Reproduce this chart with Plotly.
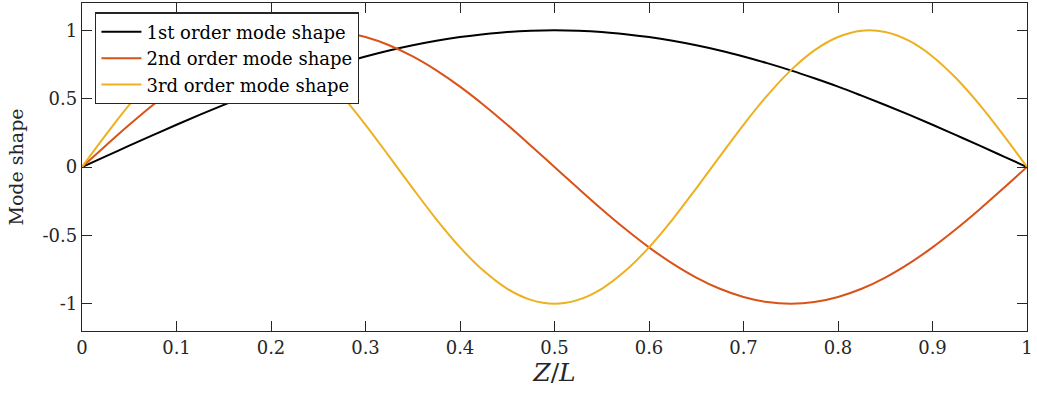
import plotly.graph_objects as go

# Normalised position along the member, Z/L
z_over_l = [0.000, 0.025, 0.050, 0.075, 0.100, 0.125, 0.150, 0.175, 0.200, 0.225,
            0.250, 0.275, 0.300, 0.325, 0.350, 0.375, 0.400, 0.425, 0.450, 0.475,
            0.500, 0.525, 0.550, 0.575, 0.600, 0.625, 0.650, 0.675, 0.700, 0.725,
            0.750, 0.775, 0.800, 0.825, 0.850, 0.875, 0.900, 0.925, 0.950, 0.975,
            1.000]

mode_1 = [0.000, 0.078, 0.156, 0.233, 0.309, 0.383, 0.454, 0.522, 0.588, 0.649,
          0.707, 0.760, 0.809, 0.853, 0.891, 0.924, 0.951, 0.972, 0.988, 0.997,
          1.000, 0.997, 0.988, 0.972, 0.951, 0.924, 0.891, 0.853, 0.809, 0.760,
          0.707, 0.649, 0.588, 0.522, 0.454, 0.383, 0.309, 0.233, 0.156, 0.078,
          0.000]

mode_2 = [0.000, 0.156, 0.309, 0.454, 0.588, 0.707, 0.809, 0.891, 0.951, 0.988,
          1.000, 0.988, 0.951, 0.891, 0.809, 0.707, 0.588, 0.454, 0.309, 0.156,
          0.000, -0.156, -0.309, -0.454, -0.588, -0.707, -0.809, -0.891, -0.951, -0.988,
          -1.000, -0.988, -0.951, -0.891, -0.809, -0.707, -0.588, -0.454, -0.309, -0.156,
          0.000]

mode_3 = [0.000, 0.233, 0.454, 0.649, 0.809, 0.924, 0.988, 0.997, 0.951, 0.853,
          0.707, 0.522, 0.309, 0.078, -0.156, -0.383, -0.588, -0.760, -0.891, -0.972,
          -1.000, -0.972, -0.891, -0.760, -0.588, -0.383, -0.156, 0.078, 0.309, 0.522,
          0.707, 0.853, 0.951, 0.997, 0.988, 0.924, 0.809, 0.649, 0.454, 0.233,
          0.000]

series_names = ["1st order mode shape", "2nd order mode shape", "3rd order mode shape"]
series_colors = ["#000000", "#D95319", "#EDB120"]

x_ticks = [0, 0.1, 0.2, 0.3, 0.4, 0.5, 0.6, 0.7, 0.8, 0.9, 1]
x_tick_text = ["0", "0.1", "0.2", "0.3", "0.4", "0.5", "0.6", "0.7", "0.8", "0.9", "1"]
y_ticks = [-1, -0.5, 0, 0.5, 1]
y_tick_text = ["-1", "-0.5", "0", "0.5", "1"]

FONT = "DejaVu Serif"
AXIS_COLOR = "#262626"

fig = go.Figure()
for name, values, color in zip(series_names, [mode_1, mode_2, mode_3], series_colors):
    fig.add_trace(go.Scatter(
        x=z_over_l, y=values, mode="lines", name=name,
        line=dict(color=color, width=2, shape="spline", smoothing=1.0),
    ))

axis_common = dict(
    showgrid=False, zeroline=False, showline=True, linecolor=AXIS_COLOR,
    linewidth=1.4, mirror="allticks", ticks="inside", ticklen=10,
    tickwidth=1.4, tickcolor=AXIS_COLOR,
    tickfont=dict(family=FONT, size=18, color=AXIS_COLOR),
)

fig.update_xaxes(
    range=[0, 1], tickvals=x_ticks, ticktext=x_tick_text,
    title=dict(text="<i>Z</i>/<i>L</i>", font=dict(family=FONT, size=25, color=AXIS_COLOR), standoff=6),
    **axis_common,
)
fig.update_yaxes(
    range=[-1.2, 1.2], tickvals=y_ticks, ticktext=y_tick_text,
    title=dict(text="Mode shape", font=dict(family=FONT, size=19, color=AXIS_COLOR), standoff=13),
    **axis_common,
)

fig.update_layout(
    width=1037, height=399,
    margin=dict(l=82, r=10, t=3, b=68),
    paper_bgcolor="white", plot_bgcolor="white",
    showlegend=True,
    legend=dict(
        x=0.0138, y=0.972, xanchor="left", yanchor="top",
        bgcolor="white", bordercolor=AXIS_COLOR, borderwidth=1.4,
        font=dict(family=FONT, size=18, color="#000000"),
        tracegroupgap=0, itemwidth=40,
    ),
)

fig.write_html("out.html")
